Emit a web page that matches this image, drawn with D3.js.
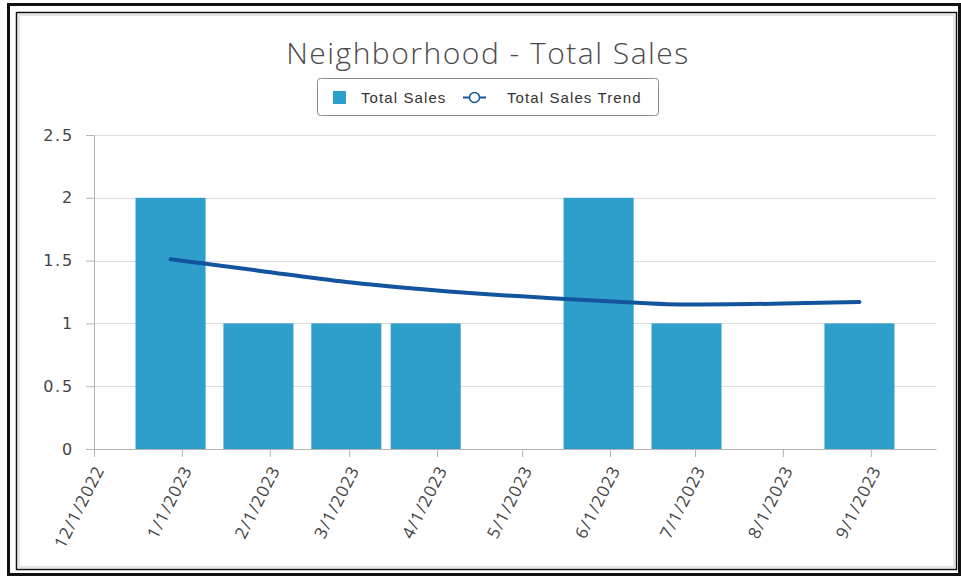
<!DOCTYPE html>
<html>
<head>
<meta charset="utf-8">
<script src="https://cdn.jsdelivr.net/npm/d3@7"></script>
<style>
  body { margin: 0; background: #fff; }
  .grid line { stroke: #dedede; }
  .axis path, .axis line { stroke: #b5b5b5; }
  .ytick text { font-family: "DejaVu Sans", Verdana, sans-serif; font-size: 16px; fill: #444; letter-spacing: 1.8px; }
  .xtick text { font-family: "Open Sans", "Segoe UI", sans-serif; font-size: 17px; fill: #444; letter-spacing: 1px; }
</style>
</head>
<body>
<script>
var svgWidth = 961;
var svgHeight = 577;

// chart data
var saleDates = ["12/28/2022", "1/28/2023", "2/28/2023", "3/28/2023", "5/28/2023", "6/28/2023", "8/28/2023"];
var totalSales = [2, 1, 1, 1, 2, 1, 1];
var salesTrend = [1.51, 1.42, 1.33, 1.27, 1.18, 1.15, 1.17];
var yTicks = [0, 0.5, 1, 1.5, 2, 2.5];
var axisStart = "12/1/2022";
var axisEnd = "9/24/2023";

var titleText = "Neighborhood - Total Sales";
var legendLabels = ["Total Sales", "Total Sales Trend"];

var barColor = "#2e9ecb";
var lineColor = "#12549e";

var margin = { top: 135, right: 25, bottom: 128, left: 94 };
var width = svgWidth - margin.left - margin.right;
var height = 449 - margin.top;

var parseDate = d3.timeParse("%m/%d/%Y");
var data = saleDates.map(function(d, i) {
  return { date: parseDate(d), sales: totalSales[i], trend: salesTrend[i] };
});

var svg = d3.select("body")
  .append("svg")
  .attr("width", svgWidth)
  .attr("height", svgHeight);

svg.append("rect").attr("width", svgWidth).attr("height", svgHeight).attr("fill", "#fff");

// frames
svg.append("rect")
  .attr("x", 8.5).attr("y", 4.5)
  .attr("width", 951).attr("height", 570)
  .attr("fill", "none").attr("stroke", "#111").attr("stroke-width", 3);
svg.append("rect")
  .attr("x", 16.5).attr("y", 12.5)
  .attr("width", 940).attr("height", 557)
  .attr("fill", "none").attr("stroke", "#111").attr("stroke-width", 1.5);
svg.append("rect")
  .attr("x", 19).attr("y", 15)
  .attr("width", 935).attr("height", 552)
  .attr("fill", "none").attr("stroke", "#e6e6e6").attr("stroke-width", 2);

// title
svg.append("text")
  .attr("x", 488)
  .attr("y", 64)
  .attr("text-anchor", "middle")
  .style("font-family", "'Open Sans', 'Segoe UI', sans-serif")
  .style("font-weight", 300)
  .style("font-size", "30px")
  .style("fill", "#4a4a4a")
  .style("letter-spacing", "1.5px")
  .text(titleText);

// legend
var legend = svg.append("g");
legend.append("rect")
  .attr("x", 317.5).attr("y", 78.5)
  .attr("width", 341).attr("height", 37)
  .attr("rx", 3)
  .attr("fill", "#fff").attr("stroke", "#8a8a8a");
legend.append("rect")
  .attr("x", 333).attr("y", 91)
  .attr("width", 13).attr("height", 13)
  .attr("fill", barColor);
legend.append("line")
  .attr("x1", 463).attr("x2", 486)
  .attr("y1", 97.5).attr("y2", 97.5)
  .attr("stroke", lineColor).attr("stroke-width", 2);
legend.append("circle")
  .attr("cx", 474.5).attr("cy", 97.5).attr("r", 5)
  .attr("fill", "#fff").attr("stroke", lineColor).attr("stroke-width", 1.5);
legend.selectAll("text.lg")
  .data(legendLabels)
  .enter()
  .append("text")
  .attr("class", "lg")
  .attr("x", (d, i) => i === 0 ? 361 : 507)
  .attr("y", 103)
  .style("font-family", "'Liberation Sans', Arial, sans-serif")
  .style("font-size", "15px")
  .style("letter-spacing", "1.1px")
  .style("fill", "#333")
  .text(d => d);

var chartGroup = svg.append("g")
  .attr("transform", `translate(${margin.left}, ${margin.top})`);

// scales
var xTimeScale = d3.scaleTime()
  .domain([parseDate(axisStart), parseDate(axisEnd)])
  .range([0, width]);

var yLinearScale = d3.scaleLinear()
  .domain([0, 2.5])
  .range([height, 0]);

// gridlines
chartGroup.append("g")
  .attr("class", "grid")
  .selectAll("line")
  .data(yTicks.filter(d => d > 0))
  .enter()
  .append("line")
  .attr("x1", 0).attr("x2", width)
  .attr("y1", d => Math.round(yLinearScale(d)) + 0.5)
  .attr("y2", d => Math.round(yLinearScale(d)) + 0.5);

// bars, about 24.7 days wide, centred on their date
var halfBar = 12.35 * 864e5;
chartGroup.selectAll("rect.bar")
  .data(data)
  .enter()
  .append("rect")
  .attr("class", "bar")
  .attr("x", d => xTimeScale(new Date(+d.date - halfBar)))
  .attr("width", d => xTimeScale(new Date(+d.date + halfBar)) - xTimeScale(new Date(+d.date - halfBar)))
  .attr("y", d => yLinearScale(d.sales))
  .attr("height", d => height - yLinearScale(d.sales))
  .attr("fill", barColor);

// trend line
var trendLine = d3.line()
  .x(d => xTimeScale(d.date))
  .y(d => yLinearScale(d.trend))
  .curve(d3.curveMonotoneX);

chartGroup.append("path")
  .datum(data)
  .attr("d", trendLine)
  .attr("fill", "none")
  .attr("stroke", lineColor)
  .attr("stroke-width", 4)
  .attr("stroke-linecap", "round");

// axes
var leftAxis = d3.axisLeft(yLinearScale)
  .tickValues(yTicks)
  .tickFormat(d3.format("~g"))
  .tickSizeInner(8)
  .tickSizeOuter(0)
  .tickPadding(12);

chartGroup.append("g")
  .attr("class", "axis ytick")
  .call(leftAxis);

var bottomAxis = d3.axisBottom(xTimeScale)
  .ticks(d3.timeMonth.every(1))
  .tickFormat(d3.timeFormat("%-m/%-d/%Y"))
  .tickSizeInner(8)
  .tickSizeOuter(0);

var xAxisGroup = chartGroup.append("g")
  .attr("class", "axis xtick")
  .attr("transform", `translate(0, ${height})`)
  .call(bottomAxis);

xAxisGroup.selectAll("text")
  .attr("text-anchor", "end")
  .attr("x", 0)
  .attr("y", 0)
  .attr("dy", "0.35em")
  .attr("transform", "translate(5, 18) rotate(-63)");
</script>
</body>
</html>
